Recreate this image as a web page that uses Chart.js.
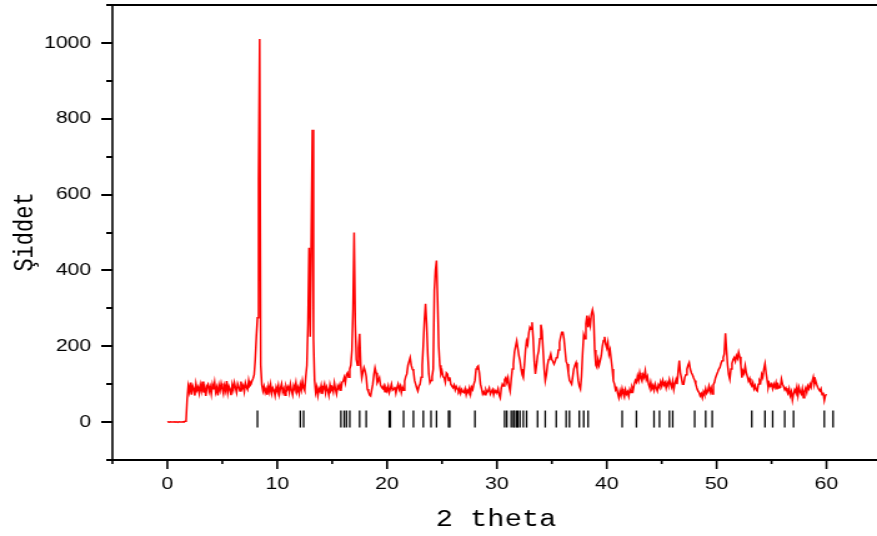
<!DOCTYPE html>
<html>
<head>
<meta charset="utf-8">
<script src="https://cdn.jsdelivr.net/npm/chart.js@4.4.1/dist/chart.umd.min.js"></script>
<style>
  html, body { margin: 0; padding: 0; background: #fff; overflow: hidden; }
</style>
</head>
<body>
<!-- the original plot is stretched sideways, so the canvas is drawn narrow and widened by its style -->
<canvas id="xrd" width="702" height="536" style="display:block;width:877px;height:536px"></canvas>
<script>
// measured intensity, one row per degree of 2 theta, 0.1 deg steps
var intensity = [
  0, 1, 0, 1, 0, 0, 1, 0, 1, 0,            // 0
  0, 1, 0, 0, 1, 0, 2, 3, 60, 95,          // 1
  80, 104, 72, 96, 88, 70, 101, 84, 92, 76,
  98, 83, 107, 78, 90, 69, 95, 100, 81, 93,
  74, 99, 86, 105, 79, 91, 70, 97, 84, 102,
  88, 75, 96, 83, 108, 77, 94, 86, 71, 99, // 5
  85, 104, 90, 78, 101, 93, 82, 107, 89, 96,
  80, 103, 92, 86, 110, 95, 99, 108, 115, 125,
  165, 225, 275, 640, 1010, 150, 98, 82, 94, 78,
  88, 72, 95, 80, 99, 76, 90, 84, 70, 92,
  82, 97, 74, 90, 101, 79, 88, 71, 95, 86, // 10
  93, 78, 100, 84, 72, 96, 87, 104, 80, 91,
  76, 99, 85, 108, 90, 83, 120, 150, 260, 460,
  225, 500, 771, 220, 110, 78, 92, 70, 88, 81,
  96, 74, 89, 100, 77, 93, 85, 71, 98, 84,
  90, 79, 103, 86, 74, 95, 88, 99, 82, 105, // 15
  108, 118, 104, 125, 130, 118, 140, 150, 190, 300,
  500, 260, 165, 150, 195, 233, 150, 117, 132, 144,
  135, 120, 87, 80, 72, 69, 85, 100, 125, 143,
  130, 104, 110, 117, 98, 92, 88, 96, 80, 90,
  82, 95, 78, 88, 100, 84, 87, 93, 76, 90, // 20
  100, 86, 95, 78, 92, 84, 108, 120, 127, 150,
  160, 170, 150, 140, 135, 110, 100, 90, 82, 95,
  100, 118, 150, 206, 270, 312, 259, 180, 127, 104,
  110, 120, 140, 347, 400, 426, 320, 200, 150, 127,
  135, 120, 117, 105, 130, 127, 110, 118, 100, 95, // 25
  91, 98, 85, 94, 88, 82, 90, 76, 86, 80,
  78, 88, 72, 84, 78, 90, 74, 92, 86, 100,
  110, 140, 145, 148, 130, 100, 88, 74, 80, 72,
  85, 78, 82, 90, 74, 80, 86, 72, 84, 79,
  78, 88, 72, 64, 90, 100, 95, 112, 117, 105, // 30
  117, 95, 82, 113, 140, 153, 185, 200, 214, 195,
  175, 162, 140, 125, 117, 150, 190, 214, 205, 235,
  250, 245, 263, 220, 160, 127, 150, 175, 188, 220,
  257, 240, 190, 140, 109, 125, 150, 165, 170, 180,
  165, 160, 153, 160, 170, 170, 190, 210, 225, 237, // 35
  237, 220, 190, 160, 153, 130, 110, 105, 100, 120,
  140, 150, 157, 140, 110, 95, 87, 120, 180, 230,
  220, 260, 281, 250, 270, 255, 285, 296, 280, 190,
  150, 144, 165, 150, 162, 175, 200, 215, 225, 205,
  195, 210, 179, 190, 165, 140, 109, 100, 85, 90, // 40
  75, 64, 82, 70, 88, 75, 66, 85, 74, 80,
  68, 86, 78, 92, 84, 100, 110, 105, 122, 110,
  130, 115, 108, 125, 118, 135, 112, 120, 100, 91,
  105, 88, 96, 84, 100, 90, 82, 98, 92, 106,
  95, 110, 98, 104, 90, 104, 96, 112, 100, 92, // 45
  108, 86, 102, 112, 100, 135, 162, 130, 115, 100,
  100, 118, 125, 140, 150, 157, 140, 130, 125, 117,
  110, 100, 90, 82, 78, 69, 75, 64, 80, 72,
  88, 76, 82, 95, 80, 90, 74, 98, 105, 117,
  125, 132, 140, 144, 155, 162, 170, 180, 234, 190, // 50
  150, 125, 113, 140, 155, 165, 170, 160, 175, 168,
  184, 172, 150, 117, 135, 128, 148, 130, 120, 108,
  115, 100, 95, 104, 88, 96, 85, 82, 100, 110,
  105, 126, 118, 140, 154, 130, 110, 91, 102, 95,
  100, 88, 100, 92, 104, 86, 98, 90, 91, 113, // 55
  100, 94, 85, 90, 82, 76, 88, 70, 80, 58,
  75, 85, 78, 92, 70, 91, 80, 74, 88, 64,
  82, 90, 78, 95, 88, 100, 92, 108, 119, 100,
  110, 100, 92, 86, 82, 88, 72, 78, 57, 70,
  74                                        // 60
];
var thetaStep = 0.1;

// reference peak positions (the black bars under the scan)
var markPositions = [
  8.2, 12.1, 12.4, 15.8, 16.1, 16.3, 16.6, 17.5, 18.1,
  20.2, 20.3, 21.5, 22.4, 23.3, 24.0, 24.5, 25.6, 25.7, 28.0,
  30.7, 30.9, 31.3, 31.5, 31.6, 31.8, 31.9, 32.1, 32.4, 32.7,
  33.7, 34.4, 35.4, 36.3, 36.6, 37.5, 37.9, 38.3,
  41.4, 42.7, 44.3, 44.8, 45.7, 46.0, 48.0, 49.0, 49.6,
  53.2, 54.4, 55.1, 56.2, 57.0, 59.8, 60.6
];

var xMajor = [0, 10, 20, 30, 40, 50, 60];
var xMinor = [-5, 5, 15, 25, 35, 45, 55];
var yMajor = [0, 200, 400, 600, 800, 1000];
var yMinor = [-100, 100, 300, 500, 700, 900, 1100];

var scan = intensity.map(function (v, i) {
  return { x: +(i * thetaStep).toFixed(1), y: v };
});
var marks = markPositions.map(function (p) {
  return { x: p, y: 8 };
});

// axis lines, tick marks and the two titles
var frame = {
  id: 'frame',
  afterDraw: function (chart) {
    var c = chart.ctx, a = chart.chartArea;
    var sx = chart.scales.x, sy = chart.scales.y;
    c.save();
    c.strokeStyle = '#000';

    c.lineWidth = 2;
    c.beginPath();
    c.moveTo(a.left, a.top); c.lineTo(a.right, a.top);
    c.moveTo(a.left - 1, a.bottom); c.lineTo(a.right, a.bottom);
    yMajor.forEach(function (v) {
      var p = Math.round(sy.getPixelForValue(v));
      c.moveTo(a.left - 9, p); c.lineTo(a.left, p);
    });
    yMinor.forEach(function (v) {
      var p = Math.round(sy.getPixelForValue(v));
      c.moveTo(a.left - 5, p); c.lineTo(a.left, p);
    });
    c.stroke();

    c.lineWidth = 1.6;
    c.beginPath();
    c.moveTo(a.left, a.top); c.lineTo(a.left, a.bottom);
    xMajor.forEach(function (v) {
      var p = sx.getPixelForValue(v);
      c.moveTo(p, a.bottom); c.lineTo(p, a.bottom + 9);
    });
    xMinor.forEach(function (v) {
      var p = sx.getPixelForValue(v);
      c.moveTo(p, a.bottom); c.lineTo(p, a.bottom + 4);
    });
    c.stroke();

    c.fillStyle = '#000';
    c.font = '23px "Liberation Mono", "Courier New", monospace';
    c.textAlign = 'center';
    c.textBaseline = 'alphabetic';
    c.fillText('2 theta', 397, 526);
    c.font = '22px "Liberation Mono", "Courier New", monospace';
    c.translate(26, 232);
    c.rotate(-Math.PI / 2);
    c.fillText('Şiddet', 0, 0);
    c.restore();
  }
};

var tickFont = { family: '"Liberation Sans", Arial, sans-serif', size: 17 };
var plainLabel = function (v) { return String(v); };
var noPadding = function (s) {
  s.paddingTop = 0; s.paddingBottom = 0; s.paddingLeft = 0; s.paddingRight = 0;
};

new Chart(document.getElementById('xrd'), {
  type: 'scatter',
  data: {
    datasets: [{
      data: scan,
      showLine: true,
      borderColor: '#ff0000',
      borderWidth: 1.5,
      pointRadius: 0,
      tension: 0
    }, {
      data: marks,
      showLine: false,
      pointStyle: 'line',
      rotation: 90,
      pointRadius: 8.5,
      borderColor: '#000',
      borderWidth: 1.3
    }]
  },
  options: {
    responsive: false,
    animation: false,
    devicePixelRatio: 1,
    layout: { autoPadding: false, padding: { top: 5, right: 0, bottom: 0, left: 0 } },
    plugins: { legend: { display: false }, tooltip: { enabled: false } },
    scales: {
      x: {
        type: 'linear',
        min: -5,
        max: 64.6,
        afterBuildTicks: function (s) { s.ticks = xMajor.map(function (v) { return { value: v }; }); },
        afterFit: function (s) { s.height = 76; noPadding(s); },
        grid: { display: false, drawTicks: false },
        border: { display: false },
        ticks: { font: tickFont, color: '#000', padding: 14, maxRotation: 0, autoSkip: false, callback: plainLabel }
      },
      y: {
        min: -100,
        max: 1100,
        afterBuildTicks: function (s) { s.ticks = yMajor.map(function (v) { return { value: v }; }); },
        afterFit: function (s) { s.width = 90; noPadding(s); },
        grid: { display: false, drawTicks: false },
        border: { display: false },
        ticks: { font: tickFont, color: '#000', padding: 17, callback: plainLabel }
      }
    }
  },
  plugins: [frame]
});
</script>
</body>
</html>
